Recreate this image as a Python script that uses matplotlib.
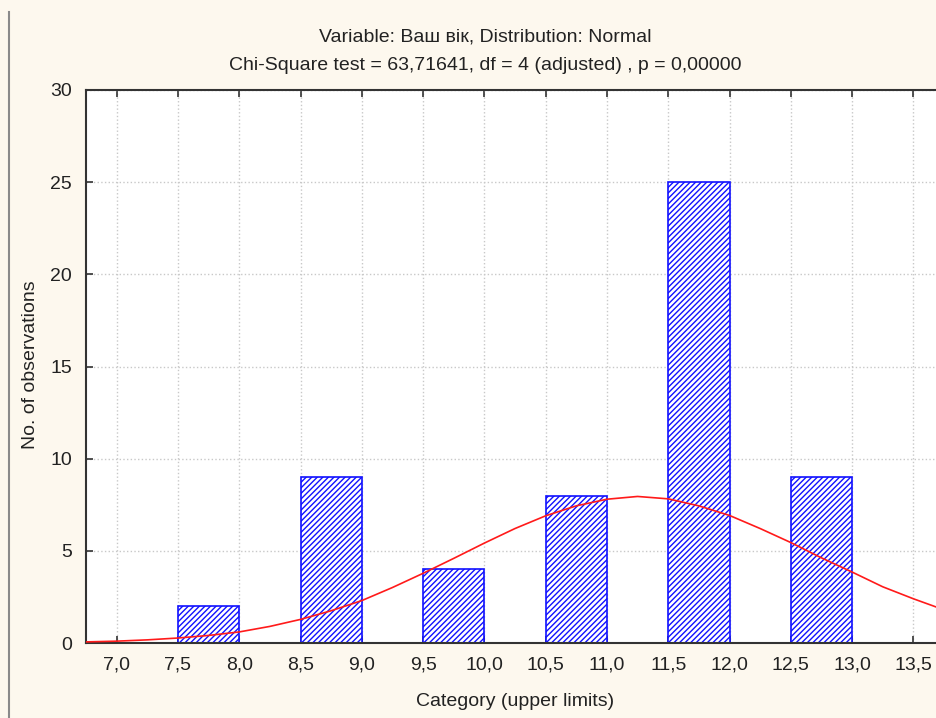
import numpy as np
import matplotlib.pyplot as plt
import matplotlib as mpl

plt.rcParams['font.family'] = ['Liberation Sans', 'DejaVu Sans']
mpl.rcParams['hatch.color'] = '#3a3aff'
mpl.rcParams['hatch.linewidth'] = 1.0

# histogram: bins (lower, upper) and counts
bin_lower = [7.5, 8.5, 9.5, 10.5, 11.5, 12.5]
bin_upper = [8.0, 9.0, 10.0, 11.0, 12.0, 13.0]
counts = [2, 9, 4, 8, 25, 9]

# fitted normal curve
curve_x = [6.75, 7.0, 7.25, 7.5, 7.75, 8.0, 8.25, 8.5, 8.75, 9.0, 9.25, 9.5,
           9.75, 10.0, 10.25, 10.5, 10.75, 11.0, 11.25, 11.5, 11.75, 12.0,
           12.25, 12.5, 12.75, 13.0, 13.25, 13.5, 13.75]
curve_y = [0.06, 0.10, 0.17, 0.27, 0.41, 0.60, 0.90, 1.28, 1.75, 2.30, 3.01,
           3.78, 4.59, 5.42, 6.21, 6.90, 7.44, 7.80, 7.95, 7.82, 7.44, 6.92,
           6.21, 5.45, 4.62, 3.85, 3.05, 2.40, 1.80]

xticks = [7.0, 7.5, 8.0, 8.5, 9.0, 9.5, 10.0, 10.5, 11.0, 11.5, 12.0, 12.5, 13.0, 13.5]
yticks = [0, 5, 10, 15, 20, 25, 30]

W, H = 936, 718
bg = '#fdf8ee'
fs = 14
fig = plt.figure(figsize=(W / 100, H / 100), dpi=100, facecolor=bg)

# left border line of the window
fig.add_artist(plt.Line2D([9 / W, 9 / W], [0, 1 - 12 / H], color='#8a8a8a', lw=1.5))

ax = fig.add_axes([86 / W, 1 - 643 / H, (944 - 86) / W, (643 - 90) / H])
ax.set_facecolor('white')

widths = [u - l for l, u in zip(bin_lower, bin_upper)]
ax.bar(bin_lower, counts, width=widths, align='edge', color='white',
       edgecolor='#1010ff', linewidth=1.2, hatch='//////', zorder=2)

ax.plot(curve_x, curve_y, color='#ff1a1a', lw=1.2, zorder=3)

ax.set_xlim(6.75, 13.75)
ax.set_ylim(0, 30)
ax.set_xticks(xticks)
ax.set_xticklabels([f'{t:.1f}'.replace('.', ',') for t in xticks])
ax.set_yticks(yticks)
ax.tick_params(direction='in', length=5, width=1.2, color='#333333',
               labelsize=fs, labelcolor='#222222', top=True, pad=10)
ax.tick_params(axis='x', pad=10)
ax.grid(True, color='#c8c8c8', linestyle=':', linewidth=1.0, zorder=0)
ax.set_axisbelow(True)
for s in ax.spines.values():
    s.set_color('#333333')
    s.set_linewidth(1.5)

ax.set_xlabel('Category (upper limits)', fontsize=fs, color='#222222')
ax.set_ylabel('No. of observations', fontsize=fs, color='#222222')
ax.xaxis.set_label_coords((515 - 86) / (944 - 86), -(693 - 643) / (643 - 90))
ax.yaxis.set_label_coords(-(86 - 39) / (944 - 86), (643 - 365) / (643 - 90))

fig.text(485 / W, 1 - 37 / H, 'Variable: Ваш вік, Distribution: Normal',
         ha='center', va='center', fontsize=fs, color='#222222')
fig.text(485 / W, 1 - 65 / H, 'Chi-Square test = 63,71641, df = 4 (adjusted) , p = 0,00000',
         ha='center', va='center', fontsize=fs, color='#222222')

fig.savefig('out.png', dpi=100, facecolor=bg)
